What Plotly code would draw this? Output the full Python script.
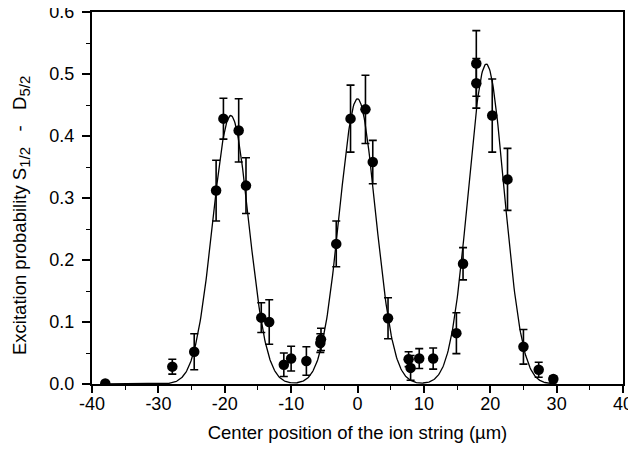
import numpy as np
import plotly.graph_objects as go

# Measured data (center position in µm, excitation probability, error)
pos = [-38.0, -27.9, -24.6, -21.3, -20.2, -17.9, -16.8, -14.5, -13.3, -11.1,
       -10.0, -7.7, -5.6, -5.5, -3.2, -1.05, 1.2, 2.3, 4.6, 7.7,
       8.0, 9.3, 11.4, 14.9, 15.9, 17.9, 17.9, 20.3, 22.6, 25.0,
       27.3, 29.5]
prob = [0.001, 0.028, 0.052, 0.312, 0.428, 0.409, 0.320, 0.107, 0.100, 0.031,
        0.041, 0.037, 0.066, 0.072, 0.226, 0.428, 0.443, 0.358, 0.106, 0.040,
        0.026, 0.041, 0.041, 0.082, 0.194, 0.517, 0.485, 0.433, 0.330, 0.060,
        0.023, 0.008]
err = [0.0, 0.012, 0.029, 0.049, 0.033, 0.051, 0.045, 0.024, 0.036, 0.019,
       0.020, 0.023, 0.015, 0.018, 0.037, 0.054, 0.055, 0.035, 0.033, 0.012,
       0.020, 0.016, 0.017, 0.033, 0.026, 0.053, 0.040, 0.059, 0.050, 0.028,
       0.012, 0.005]

# Gaussian fit parameters
fit_centers = [-19.1, 0.0, 19.4]
fit_amps = [0.433, 0.460, 0.516]
fit_sigmas = [2.7, 2.7, 2.7]
fit_range = [-38.0, 30.0]

# Tick labels
x_ticks = [-40, -30, -20, -10, 0, 10, 20, 30, 40]
x_ticktext = ["-40", "-30", "-20", "-10", "0", "10", "20", "30", "40"]
y_ticks = [0.0, 0.1, 0.2, 0.3, 0.4, 0.5, 0.6]
y_ticktext = ["0.0", "0.1", "0.2", "0.3", "0.4", "0.5", "0.6"]

xf = np.linspace(fit_range[0], fit_range[1], 700)
yf = np.zeros_like(xf)
for c, a, s in zip(fit_centers, fit_amps, fit_sigmas):
    yf += a * np.exp(-(xf - c) ** 2 / (2 * s ** 2))

fig = go.Figure()
fig.add_trace(go.Scatter(x=xf, y=yf, mode="lines",
                         line=dict(color="black", width=1.3),
                         showlegend=False, hoverinfo="skip"))
fig.add_trace(go.Scatter(x=pos, y=prob, mode="markers",
                         marker=dict(color="black", size=10.5),
                         error_y=dict(type="data", array=err, visible=True,
                                      color="black", thickness=1.6, width=4),
                         showlegend=False))

font = "Liberation Sans, Arial, Helvetica, sans-serif"
sp = "\u00a0" * 3
ytitle = ("Excitation probability S<sub><span style=\"font-size:15px\">1/2</span></sub>"
          + sp + "-" + sp + "D<sub><span style=\"font-size:15px\">5/2</span></sub>")

# The page body adds an 8 px margin, so the figure is sized to fit the window.
fig.update_layout(
    width=628, height=435,
    margin=dict(l=84, r=13, t=4, b=59),
    paper_bgcolor="white", plot_bgcolor="white",
    font=dict(family=font, size=18, color="black"),
    xaxis=dict(range=[-40, 40], tickmode="array",
               tickvals=x_ticks, ticktext=x_ticktext,
               ticks="outside", ticklen=7, tickwidth=1.5, tickcolor="black",
               minor=dict(tickvals=[-35, -25, -15, -5, 5, 15, 25, 35],
                          ticks="outside", ticklen=4, tickwidth=1.2, tickcolor="black"),
               showline=True, linecolor="black", linewidth=2, mirror=True,
               showgrid=False, zeroline=False, automargin=False,
               tickfont=dict(size=18), ticklabelstandoff=-5,
               ticklabeloverflow="allow",
               title=dict(text="Center position of the ion string (\u00b5m)",
                          font=dict(size=18.5), standoff=18)),
    yaxis=dict(range=[0, 0.6], tickmode="array",
               tickvals=y_ticks, ticktext=y_ticktext,
               ticks="outside", ticklen=8, tickwidth=1.5, tickcolor="black",
               minor=dict(tickvals=[0.05, 0.15, 0.25, 0.35, 0.45, 0.55],
                          ticks="outside", ticklen=4, tickwidth=1.2, tickcolor="black"),
               showline=True, linecolor="black", linewidth=2, mirror=True,
               showgrid=False, zeroline=False, automargin=False,
               tickfont=dict(size=18), ticklabelstandoff=4,
               ticklabeloverflow="allow"),
    annotations=[dict(
        text=ytitle,
        xref="paper", yref="paper", x=0, y=0.5, xshift=-71, yshift=-18,
        textangle=-90, showarrow=False, xanchor="center", yanchor="middle",
        font=dict(size=18.5, family=font, color="black"))],
)

fig.write_html("out.html")
